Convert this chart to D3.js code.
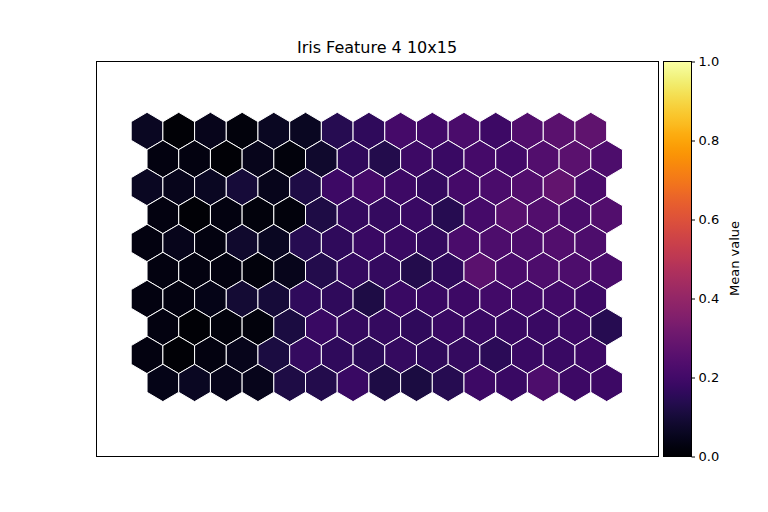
<!DOCTYPE html>
<html><head><meta charset="utf-8">
<script src="https://cdn.jsdelivr.net/npm/d3@7"></script>
<style>body{margin:0;background:#fff;font-family:"DejaVu Sans",sans-serif;}</style>
</head><body><svg id="c" width="768" height="512"></svg>
<script>
const title = "Iris Feature 4 10x15";
const colorbarLabel = "Mean value";
const colorbarTicks = [0.0, 0.2, 0.4, 0.6, 0.8, 1.0];
// rows listed top to bottom; odd rows are offset by half a cell
const row0 = [0.06,0.01,0.05,0.02,0.06,0.06,0.14,0.16,0.21,0.20,0.22,0.19,0.24,0.26,0.27];
const row1 = [0.03,0.03,0.01,0.05,0.02,0.08,0.16,0.13,0.19,0.18,0.21,0.20,0.24,0.26,0.23];
const row2 = [0.06,0.05,0.06,0.10,0.05,0.12,0.19,0.21,0.19,0.17,0.21,0.22,0.24,0.28,0.22];
const row3 = [0.03,0.01,0.03,0.02,0.02,0.12,0.17,0.17,0.18,0.14,0.21,0.25,0.24,0.22,0.24];
const row4 = [0.03,0.05,0.03,0.08,0.06,0.14,0.16,0.18,0.18,0.17,0.22,0.23,0.23,0.24,0.23];
const row5 = [0.03,0.03,0.03,0.02,0.05,0.13,0.17,0.17,0.13,0.16,0.26,0.22,0.23,0.23,0.22];
const row6 = [0.03,0.03,0.04,0.09,0.10,0.16,0.16,0.12,0.18,0.18,0.19,0.20,0.20,0.20,0.19];
const row7 = [0.03,0.01,0.02,0.02,0.11,0.18,0.17,0.17,0.16,0.18,0.18,0.18,0.18,0.19,0.14];
const row8 = [0.03,0.01,0.03,0.05,0.11,0.17,0.16,0.15,0.17,0.16,0.17,0.15,0.18,0.18,0.19];
const row9 = [0.04,0.06,0.05,0.05,0.12,0.13,0.18,0.12,0.11,0.14,0.19,0.18,0.23,0.19,0.19];
const rows = [row0,row1,row2,row3,row4,row5,row6,row7,row8,row9];

const svg = d3.select("#c");
const ax = {left:96, top:61, right:658, bottom:456};
const x = d3.scaleLinear().domain([-1.61, 16.12]).range([ax.left, ax.right]);
const y = d3.scaleLinear().domain([-2.5, 11.61]).range([ax.top, ax.bottom]);
const color = d3.scaleSequential(d3.interpolateInferno).domain([0,1]);

const cells = [];
rows.forEach((r,i)=>r.forEach((v,j)=>cells.push({row:i,col:j,v})));

const hw = (x(1)-x(0))/2;          // half width
const rr = (y(1)-y(0))/1.5;        // vertical radius
const hexPath = `M0,${-rr}L${hw},${-rr/2}L${hw},${rr/2}L0,${rr}L${-hw},${rr/2}L${-hw},${-rr/2}Z`;

svg.append("g").selectAll("path").data(cells).join("path")
  .attr("d", hexPath)
  .attr("transform", d=>`translate(${x(d.col + (d.row%2)*0.5)},${y(d.row)})`)
  .attr("fill", d=>color(d.v))
  .attr("stroke","#fff").attr("stroke-width",1);

svg.append("rect").attr("x",ax.left+0.5).attr("y",ax.top+0.5)
  .attr("width",ax.right-ax.left).attr("height",ax.bottom-ax.top)
  .attr("fill","none").attr("stroke","#000").attr("stroke-width",1);

svg.append("text").attr("x",(ax.left+ax.right)/2).attr("y",53)
  .attr("text-anchor","middle").attr("font-size",16).attr("fill","#000").text(title);

// colorbar
const cb = {left:663, right:691, top:61, bottom:456};
const defs = svg.append("defs");
const grad = defs.append("linearGradient").attr("id","g").attr("x1",0).attr("y1",1).attr("x2",0).attr("y2",0);
d3.range(0,1.0001,0.02).forEach(t=>grad.append("stop").attr("offset",t).attr("stop-color",color(t)));
svg.append("rect").attr("x",cb.left+0.5).attr("y",cb.top+0.5).attr("width",cb.right-cb.left)
  .attr("height",cb.bottom-cb.top).attr("fill","url(#g)").attr("stroke","#000").attr("stroke-width",1);
const cy = d3.scaleLinear().domain([0,1]).range([cb.bottom+0.5, cb.top+0.5]);
const cax = svg.append("g").attr("transform",`translate(${cb.right+0.5},0)`)
  .call(d3.axisRight(cy).tickValues(colorbarTicks).tickFormat(d3.format(".1f")).tickSize(3.5).tickPadding(3.5));
cax.select(".domain").remove();
cax.selectAll("text").attr("font-size",13).attr("font-family","DejaVu Sans").attr("fill","#000");
cax.selectAll("line").attr("stroke","#000");
svg.append("text").attr("transform",`translate(739,${(cb.top+cb.bottom)/2}) rotate(-90)`)
  .attr("text-anchor","middle").attr("font-size",13).attr("fill","#000").text(colorbarLabel);
</script></body></html>
